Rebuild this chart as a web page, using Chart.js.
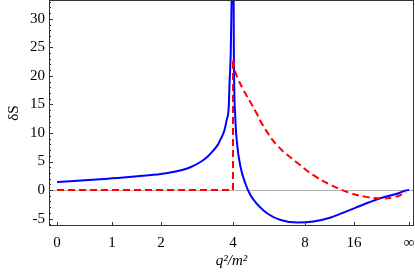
<!DOCTYPE html>
<html>
<head>
<meta charset="utf-8">
<script src="https://cdn.jsdelivr.net/npm/chart.js@4"></script>
<style>
  body { margin: 0; background: #fff; }
  canvas { display: block; }
</style>
</head>
<body>
<canvas id="chart" width="415" height="278"></canvas>
<script>
// q^2/m^2 axis ticks (axis is warped, infinity at the right end)
const q2Ticks = [0, 1, 2, 4, 8, 16, Infinity];
const q2TickLabels = ['0', '1', '2', '4', '8', '16', '∞'];
const yTicks = [-5, 0, 5, 10, 15, 20, 25, 30];

// solid blue curve
const blueQ2 = [0, 0.5, 1, 1.5, 2, 2.5, 2.71, 3, 3.17, 3.3, 3.5, 3.57, 3.7, 3.78, 3.85, 3.88, 3.92, 3.95, 4,
  4.02, 4.03, 4.08, 4.15, 4.28, 4.47, 4.68, 5.0, 5.5, 6.2, 7.4, 8.8, 11, 14.4, 20, 32, 80, 200, Infinity];
const blueS = [1.4, 1.7, 2.05, 2.4, 2.8, 3.5, 4.0, 5.0, 5.8, 6.6, 8.0, 8.8, 10.4, 12.3, 14.5, 19, 24, 33, 60,
  36, 24, 13, 8.0, 4.0, 1.1, -0.9, -2.6, -4.2, -5.25, -5.7, -5.5, -4.8, -3.6, -2.45, -1.4, -0.6, -0.15, 0.05];

// dashed red curve (step at 4, then decaying tail)
const redQ2 = [0, 4, 4, 4.15, 4.98, 5.21, 6.0, 7.39, 8.8, 11, 14.4, 20, 32, 61, 300];
const redS = [0, 0, 22.8, 19.8, 13.2, 11.5, 7.8, 4.7, 2.6, 0.9, -0.4, -1.15, -1.45, -1.25, -0.5];

const warp = (s) => (2 / Math.PI) * Math.atan(s / 4);
const toPoints = (xs, ys) => xs.map((s, i) => ({ x: warp(s), y: ys[i] }));

const serif = 'Liberation Serif, Times New Roman, serif';
const frameColor = '#333';

const framePlugin = {
  id: 'frame',
  afterDraw(chart) {
    const { ctx, chartArea: a, scales } = chart;
    ctx.save();
    ctx.strokeStyle = frameColor;
    ctx.lineWidth = 1;
    ctx.strokeRect(a.left + 0.5, a.top + 0.5, a.right - a.left - 1, a.bottom - a.top - 1);
    ctx.beginPath();
    // y ticks, inward: major every 5, minor every 1
    for (let v = Math.ceil(scales.y.min); v <= scales.y.max; v++) {
      const y = Math.round(scales.y.getPixelForValue(v)) + 0.5;
      const len = v % 5 === 0 ? 4 : 2;
      ctx.moveTo(a.left, y);
      ctx.lineTo(a.left + len, y);
    }
    // x ticks, inward
    q2Ticks.forEach((s) => {
      const x = Math.round(scales.x.getPixelForValue(warp(s))) + 0.5;
      ctx.moveTo(x, a.bottom);
      ctx.lineTo(x, a.bottom - 4);
    });
    ctx.stroke();
    ctx.restore();
  },
};

new Chart(document.getElementById('chart'), {
  type: 'scatter',
  data: {
    datasets: [
      {
        data: toPoints(redQ2.slice(0, 3), redS.slice(0, 3)),
        showLine: true,
        borderColor: '#ff0000',
        borderWidth: 2,
        borderDash: [7, 4],
        pointRadius: 0,
        tension: 0,
      },
      {
        data: toPoints(redQ2.slice(2), redS.slice(2)),
        showLine: true,
        borderColor: '#ff0000',
        borderWidth: 2,
        borderDash: [7, 4],
        pointRadius: 0,
        tension: 0.4,
      },
      {
        data: toPoints(blueQ2, blueS),
        showLine: true,
        borderColor: '#0000ff',
        borderWidth: 2,
        pointRadius: 0,
        cubicInterpolationMode: 'monotone',
      },
    ],
  },
  options: {
    responsive: false,
    animation: false,
    layout: { autoPadding: false, padding: { top: 0, right: 1, bottom: 0, left: 0 } },
    plugins: { legend: { display: false }, tooltip: { enabled: false } },
    scales: {
      x: {
        type: 'linear',
        min: -0.0228,
        max: 1.0142,
        afterBuildTicks: (scale) => {
          scale.ticks = q2Ticks.map((s) => ({ value: warp(s) }));
        },
        afterFit: (scale) => {
          scale.height = 52;
          scale.paddingLeft = 0;
          scale.paddingRight = 0;
        },
        ticks: {
          callback: (v, i) => q2TickLabels[i],
          autoSkip: false,
          maxRotation: 0,
          padding: 0,
          color: '#000',
          font: { family: serif, size: 15 },
        },
        grid: { display: false },
        border: { display: false },
        title: {
          display: true,
          text: 'q²/m²',
          color: '#000',
          padding: { top: 0, bottom: 8 },
          font: { family: serif, size: 15, style: 'italic' },
        },
      },
      y: {
        min: -6.3,
        max: 33.3,
        afterBuildTicks: (scale) => {
          scale.ticks = yTicks.map((v) => ({ value: v }));
        },
        afterFit: (scale) => {
          scale.width = 49;
          scale.paddingTop = 0;
          scale.paddingBottom = 0;
        },
        ticks: {
          padding: 4,
          color: '#000',
          font: { family: serif, size: 15 },
        },
        grid: {
          drawTicks: false,
          lineWidth: 1,
          color: (c) => (c.tick && c.tick.value === 0 ? '#b3b3b3' : 'rgba(0,0,0,0)'),
        },
        border: { display: false },
        title: {
          display: true,
          text: 'δS',
          color: '#000',
          padding: { top: 5, bottom: 0 },
          font: { family: serif, size: 15 },
        },
      },
    },
  },
  plugins: [framePlugin],
});
</script>
</body>
</html>
